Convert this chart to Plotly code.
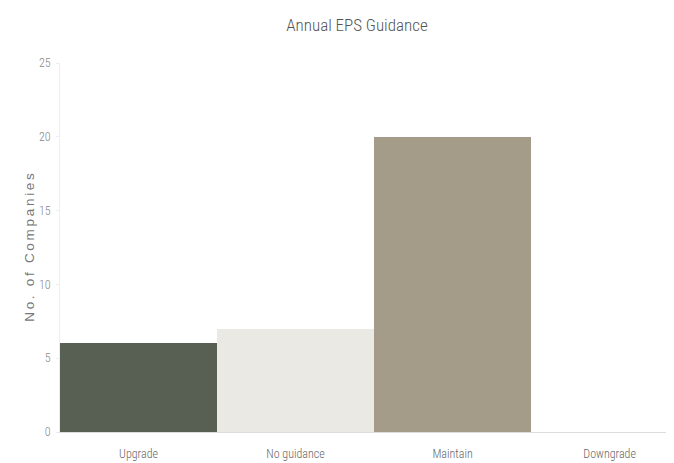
import plotly.graph_objects as go

categories = ["Upgrade", "No guidance", "Maintain", "Downgrade"]
counts = [6, 7, 20, 0]
bar_colors = ["#576052", "#ebe9e4", "#a59b89", "#a59b89"]

COND = "Roboto Condensed, Liberation Sans Narrow, Roboto, sans-serif"
TS = "\u2009"  # thin space, for the letter-spaced axis title

fig = go.Figure(go.Bar(x=categories, y=counts, marker_color=bar_colors,
                       marker_line_width=0))

# page body has an 8px margin, so the figure is sized to the visible window
fig.update_layout(
    width=666, height=455,
    margin=dict(l=52, r=0, t=55, b=31),
    paper_bgcolor="white", plot_bgcolor="white",
    bargap=0,
    showlegend=False,
    title=dict(text="Annual EPS Guidance", x=0.524, xanchor="center", y=0.963,
               yanchor="middle",
               font=dict(family=COND, size=17, weight=300, color="#555555")),
    font=dict(family=COND, color="#666666", size=12, weight=300),
)
fig.update_xaxes(range=[-0.5, 3.41], showgrid=False, showline=True,
                 linecolor="#dddddd", linewidth=1, ticks="", ticklabelstandoff=11,
                 tickfont=dict(size=12, color="#666666", weight=300))
fig.update_yaxes(range=[0, 25], dtick=5, showgrid=False, showline=True,
                 linecolor="#eeeeee", linewidth=1, zeroline=False,
                 ticks="outside", ticklen=3, tickcolor="#eeeeee", ticklabelstandoff=3,
                 tickfont=dict(size=12, color="#888888", weight=300),
                 title=dict(text=TS.join("No. of Companies"), standoff=1,
                            font=dict(family="Liberation Sans, Arial, sans-serif",
                                      size=13.5, weight=300, color="#777777")))

fig.write_html("out.html")
